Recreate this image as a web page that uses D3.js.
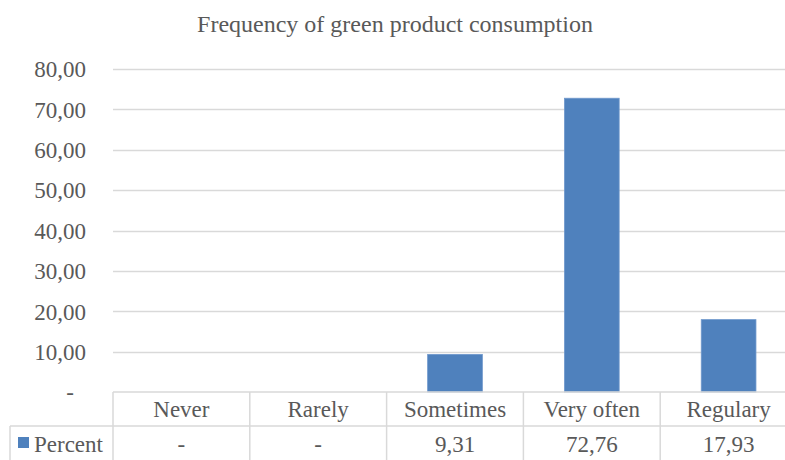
<!DOCTYPE html>
<html>
<head>
<meta charset="utf-8">
<script src="https://cdn.jsdelivr.net/npm/d3@7"></script>
<style>
  html, body { margin: 0; padding: 0; background: #fff; }
</style>
</head>
<body>
<svg id="chart" width="785" height="460" font-family="Liberation Serif"></svg>
<script>
// Chart data
const title = "Frequency of green product consumption";
const seriesName = "Percent";
const categories = ["Never", "Rarely", "Sometimes", "Very often", "Regulary"];
const percentValues = [0, 0, 9.31, 72.76, 17.93];
const yTicks = [0, 10, 20, 30, 40, 50, 60, 70, 80];

const textColor = "#595959";
const gridColor = "#d9d9d9";
const barColor = "#4f81bd";
const fontFamily = "Liberation Serif";
const fontSize = 23;

// Comma as decimal separator, dash for zero (accounting style)
const locale = d3.formatLocale({ decimal: ",", thousands: ".", grouping: [3], currency: ["", ""] });
const fmt = locale.format(".2f");
const label = v => (v === 0 ? "-" : fmt(v));

const svg = d3.select("#chart");

const plotLeft = 113, plotRight = 797, plotTop = 69, plotBottom = 392;
const row1Bottom = 426, tableBottom = 462, legendLeft = 10;

const x = d3.scaleBand().domain(categories).range([plotLeft, plotRight]).paddingInner(0).paddingOuter(0);
const y = d3.scaleLinear().domain([0, 80]).range([plotBottom, plotTop]);

// Title
svg.append("text")
  .attr("x", 395).attr("y", 32)
  .attr("text-anchor", "middle")
  .attr("fill", textColor)
  .attr("font-family", fontFamily)
  .attr("font-size", 24)
  .text(title);

// Gridlines (value axis)
svg.append("g")
  .selectAll("line")
  .data(yTicks.filter(d => d > 0))
  .join("line")
  .attr("x1", plotLeft).attr("x2", plotRight)
  .attr("y1", d => Math.round(y(d)) + 0.5).attr("y2", d => Math.round(y(d)) + 0.5)
  .attr("stroke", gridColor).attr("stroke-width", 1.3);

// Value axis labels
const yAxis = d3.axisLeft(y).tickValues(yTicks).tickFormat(label).tickSize(0).tickPadding(0);
const gy = svg.append("g").attr("transform", `translate(86,0)`).call(yAxis);
gy.attr("font-family", fontFamily).attr("font-size", fontSize);
gy.select(".domain").remove();
gy.selectAll("text")
  .attr("fill", textColor)
  .attr("dy", "0.34em")
  .attr("dx", d => (d === 0 ? -12 : 0));

// Bars
svg.append("g")
  .selectAll("rect")
  .data(categories.map((c, i) => ({ c, v: percentValues[i] })).filter(d => d.v > 0))
  .join("rect")
  .attr("x", d => x(d.c) + x.bandwidth() * 0.3)
  .attr("width", x.bandwidth() * 0.4)
  .attr("y", d => y(d.v))
  .attr("height", d => y(0) - y(d.v))
  .attr("fill", barColor)
  .attr("stroke", "#6f98cc").attr("stroke-width", 0.8);

// Data table
const table = svg.append("g").attr("stroke", gridColor).attr("stroke-width", 1.5);
// horizontal rules
table.append("line").attr("x1", plotLeft).attr("x2", plotRight).attr("y1", plotBottom).attr("y2", plotBottom);
table.append("line").attr("x1", legendLeft).attr("x2", plotRight).attr("y1", row1Bottom).attr("y2", row1Bottom);
// left edge of legend column
table.append("line").attr("x1", legendLeft).attr("x2", legendLeft).attr("y1", row1Bottom).attr("y2", tableBottom);
// column separators
table.selectAll("line.col")
  .data(categories.concat(["__end"]))
  .join("line")
  .attr("class", "col")
  .attr("x1", (d, i) => plotLeft + i * x.bandwidth())
  .attr("x2", (d, i) => plotLeft + i * x.bandwidth())
  .attr("y1", plotBottom).attr("y2", tableBottom);

const tableText = svg.append("g")
  .attr("font-family", fontFamily)
  .attr("font-size", fontSize)
  .attr("fill", textColor);

// Category header row
tableText.append("g")
  .selectAll("text")
  .data(categories)
  .join("text")
  .attr("x", d => x(d) + x.bandwidth() / 2)
  .attr("y", 417)
  .attr("text-anchor", "middle")
  .text(d => d);

// Values row
tableText.append("g")
  .selectAll("text")
  .data(categories.map((c, i) => ({ c, v: percentValues[i] })))
  .join("text")
  .attr("x", d => x(d.c) + x.bandwidth() / 2)
  .attr("y", 452)
  .attr("text-anchor", "middle")
  .text(d => label(d.v));

// Legend key in the table
svg.append("rect")
  .attr("x", 18).attr("y", 437).attr("width", 11).attr("height", 11)
  .attr("fill", barColor);
tableText.append("text")
  .attr("x", 34).attr("y", 452)
  .text(seriesName);
</script>
</body>
</html>
